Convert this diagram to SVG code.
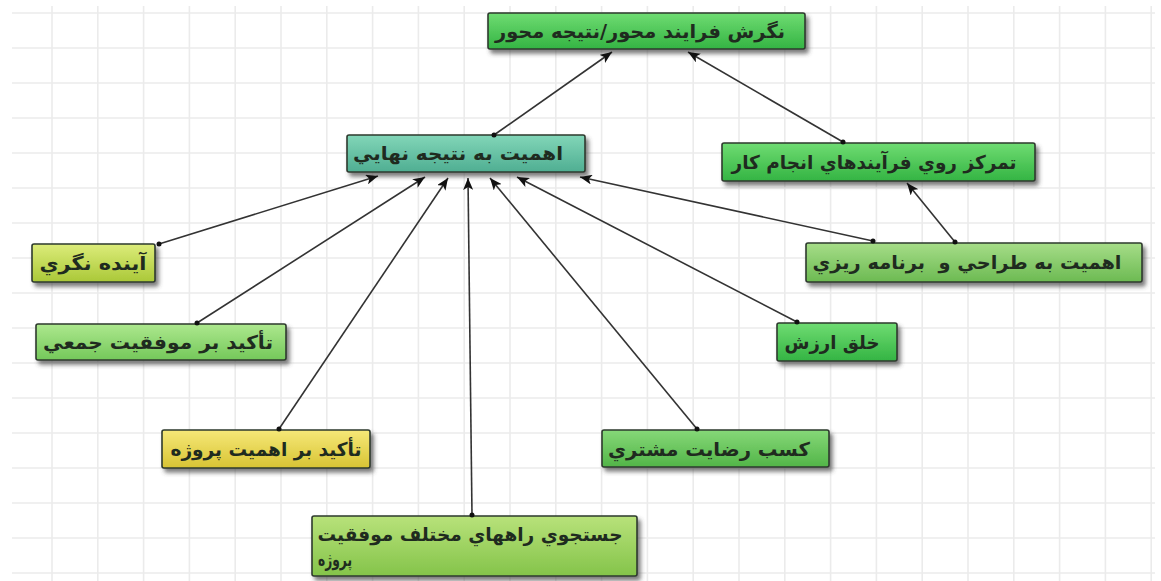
<svg xmlns="http://www.w3.org/2000/svg" width="1161" height="581" viewBox="0 0 1161 581">
<style>
.grid{stroke:#ebebeb;stroke-width:1.6;fill:none}
.box{stroke:#2e3a2e;stroke-width:1.6}
.lbl{font-family:"DejaVu Sans",sans-serif;font-size:19px;font-weight:bold;fill:#1f2b1f;text-anchor:middle}
.con{stroke:#333;stroke-width:1.6;fill:none;marker-start:url(#dot);marker-end:url(#arr)}
</style>
<defs>
<filter id="sh" x="-10%" y="-30%" width="125%" height="170%">
<feDropShadow dx="3" dy="4" stdDeviation="2" flood-color="#444" flood-opacity="0.7"/>
</filter>
<marker id="arr" markerUnits="userSpaceOnUse" markerWidth="14" markerHeight="10" refX="12" refY="5" orient="auto">
<path d="M0,0 L12,5 L0,10 L3,5 z" fill="#111"/>
</marker>
<marker id="dot" markerUnits="userSpaceOnUse" markerWidth="6" markerHeight="6" refX="3" refY="3">
<circle cx="3" cy="3" r="2.5" fill="#111"/>
</marker>
<linearGradient id="gGreen" x1="0" y1="0" x2="0" y2="1"><stop offset="0" stop-color="#6fdc72"/><stop offset="1" stop-color="#34b443"/></linearGradient>
<linearGradient id="gTeal" x1="0" y1="0" x2="0" y2="1"><stop offset="0" stop-color="#82d6b8"/><stop offset="1" stop-color="#4fae92"/></linearGradient>
<linearGradient id="gMid" x1="0" y1="0" x2="0" y2="1"><stop offset="0" stop-color="#86d878"/><stop offset="1" stop-color="#52b548"/></linearGradient>
<linearGradient id="gSoft" x1="0" y1="0" x2="0" y2="1"><stop offset="0" stop-color="#a6dd88"/><stop offset="1" stop-color="#6cba52"/></linearGradient>
<linearGradient id="gLight" x1="0" y1="0" x2="0" y2="1"><stop offset="0" stop-color="#ade88e"/><stop offset="1" stop-color="#74c85a"/></linearGradient>
<linearGradient id="gYG" x1="0" y1="0" x2="0" y2="1"><stop offset="0" stop-color="#dcec7a"/><stop offset="1" stop-color="#aac838"/></linearGradient>
<linearGradient id="gYel" x1="0" y1="0" x2="0" y2="1"><stop offset="0" stop-color="#f6e878"/><stop offset="1" stop-color="#d8c434"/></linearGradient>
<linearGradient id="gLime" x1="0" y1="0" x2="0" y2="1"><stop offset="0" stop-color="#b8e27a"/><stop offset="1" stop-color="#84c44a"/></linearGradient>
</defs>
<rect width="1161" height="581" fill="#ffffff"/>
<g id="grid">
<path class="grid" d="M12,13H1155M12,48H1155M12,83H1155M12,118H1155M12,153H1155M12,188H1155M12,223H1155M12,258H1155M12,293H1155M12,328H1155M12,363H1155M12,398H1155M12,433H1155M12,468H1155M12,503H1155M12,538H1155M12,573H1155"/>
<path class="grid" d="M52,6V581M97.8,6V581M143.6,6V581M189.4,6V581M235.2,6V581M281,6V581M326.8,6V581M372.6,6V581M418.4,6V581M464.2,6V581M510,6V581M555.8,6V581M601.6,6V581M647.4,6V581M693.2,6V581M739,6V581M784.8,6V581M830.6,6V581M876.4,6V581M922.2,6V581M968,6V581M1013.8,6V581M1059.6,6V581M1105.4,6V581M1151.2,6V581"/>
</g>
<g id="n-top"><rect class="box" x="488" y="13" width="317" height="36" rx="2" fill="url(#gGreen)" filter="url(#sh)"/><text class="lbl" x="640" y="38" direction="rtl" textLength="290" lengthAdjust="spacingAndGlyphs">نگرش فرايند محور/نتيجه محور</text></g>
<g id="n-result"><rect class="box" x="347" y="135" width="238" height="37" rx="2" fill="url(#gTeal)" filter="url(#sh)"/><text class="lbl" x="458" y="160" direction="rtl" textLength="210" lengthAdjust="spacingAndGlyphs">اهميت به نتيجه نهايي</text></g>
<g id="n-process"><rect class="box" x="722" y="143" width="313" height="38" rx="2" fill="url(#gGreen)" filter="url(#sh)"/><text class="lbl" x="874" y="169" direction="rtl" textLength="285" lengthAdjust="spacingAndGlyphs">تمرکز روي فرآيندهاي انجام کار</text></g>
<g id="n-plan"><rect class="box" x="806" y="243" width="336" height="39" rx="2" fill="url(#gSoft)" filter="url(#sh)"/><text class="lbl" x="967" y="269" direction="rtl" style="white-space:pre" textLength="309" lengthAdjust="spacingAndGlyphs">اهميت به طراحي و  برنامه ريزي</text></g>
<g id="n-future"><rect class="box" x="32" y="244" width="123" height="38" rx="2" fill="url(#gYG)" filter="url(#sh)"/><text class="lbl" x="93" y="270" direction="rtl" textLength="107" lengthAdjust="spacingAndGlyphs">آينده نگري</text></g>
<g id="n-collective"><rect class="box" x="36" y="324" width="250" height="36" rx="2" fill="url(#gLight)" filter="url(#sh)"/><text class="lbl" x="158" y="349" direction="rtl" textLength="230" lengthAdjust="spacingAndGlyphs">تأکيد بر موفقيت جمعي</text></g>
<g id="n-value"><rect class="box" x="777" y="323" width="120" height="38" rx="2" fill="url(#gGreen)" filter="url(#sh)"/><text class="lbl" x="832" y="349" direction="rtl" textLength="95" lengthAdjust="spacingAndGlyphs">خلق ارزش</text></g>
<g id="n-project"><rect class="box" x="162" y="430" width="208" height="38" rx="2" fill="url(#gYel)" filter="url(#sh)"/><text class="lbl" x="266" y="456" direction="rtl" textLength="191" lengthAdjust="spacingAndGlyphs">تأکيد بر اهميت پروژه</text></g>
<g id="n-customer"><rect class="box" x="602" y="430" width="227" height="37" rx="2" fill="url(#gMid)" filter="url(#sh)"/><text class="lbl" x="709" y="456" direction="rtl" textLength="202" lengthAdjust="spacingAndGlyphs">کسب رضايت مشتري</text></g>
<g id="n-search"><rect class="box" x="312" y="516" width="325" height="60" rx="2" fill="url(#gLime)" filter="url(#sh)"/><text class="lbl" x="470" y="541" direction="rtl" textLength="305" lengthAdjust="spacingAndGlyphs">جستجوي راههاي مختلف موفقيت</text><text class="lbl" x="335" y="566" direction="rtl" textLength="34" lengthAdjust="spacingAndGlyphs">پروژه</text></g>
<g id="connectors">
<line class="con" x1="494" y1="135" x2="612" y2="52"/>
<line class="con" x1="843" y1="142" x2="688" y2="52"/>
<line class="con" x1="955" y1="242" x2="907" y2="183"/>
<line class="con" x1="873" y1="241" x2="580" y2="177"/>
<line class="con" x1="159" y1="244" x2="378" y2="176"/>
<line class="con" x1="197" y1="323" x2="425" y2="177"/>
<line class="con" x1="279" y1="429" x2="448" y2="178"/>
<line class="con" x1="472" y1="515" x2="468" y2="178"/>
<line class="con" x1="697" y1="429" x2="490" y2="178"/>
<line class="con" x1="797" y1="322" x2="517" y2="177"/>
</g>
</svg>
